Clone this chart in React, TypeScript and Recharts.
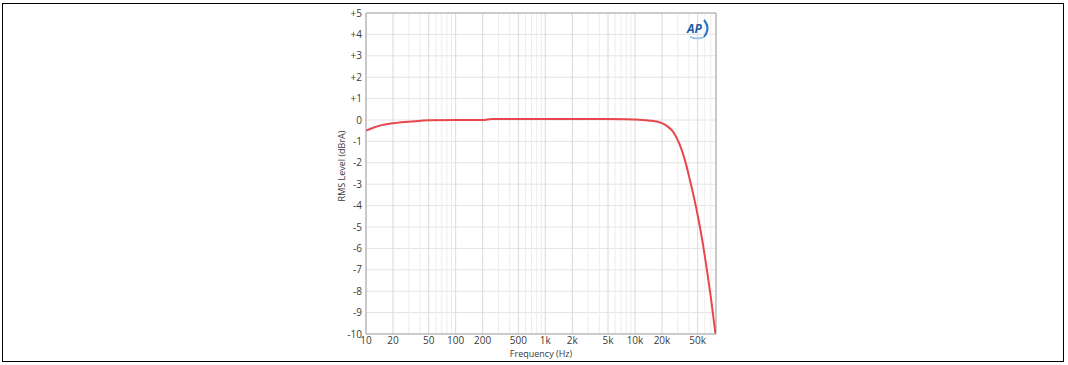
import {
  LineChart,
  Line,
  XAxis,
  YAxis,
  CartesianGrid,
  ReferenceLine,
} from "recharts";

// frequency response (Hz, dBrA)
const freqs = [
  10, 12, 15, 20, 30, 40, 50, 100, 200, 250, 500, 1000, 5000, 8000, 10000,
  15000, 20000, 23000, 26000, 29000, 33000, 37000, 41000, 46000, 51000,
  57000, 62000, 72000, 79000,
];
const levels = [
  -0.5, -0.36, -0.24, -0.15, -0.08, -0.04, -0.01, 0, 0, 0.05, 0.05, 0.05,
  0.05, 0.04, 0.02, -0.03, -0.15, -0.3, -0.5, -0.82, -1.37, -2.05, -2.82,
  -3.72, -4.64, -5.76, -6.75, -8.66, -10,
];

const xTicks = [10, 20, 50, 100, 200, 500, 1000, 2000, 5000, 10000, 20000, 50000];
const xMinor = [
  30, 40, 60, 70, 80, 90, 300, 400, 600, 700, 800, 900, 3000, 4000, 6000,
  7000, 8000, 9000, 30000, 40000, 60000, 70000,
];
const yTicks = [-10, -9, -8, -7, -6, -5, -4, -3, -2, -1, 0, 1, 2, 3, 4, 5];

const data = freqs.map((f, i) => ({ f, v: levels[i] }));

const font = "'Open Sans', 'Noto Sans', sans-serif";
const border = "#a6a6a6";

const fmtX = (v: number) => (v >= 1000 ? `${v / 1000}k` : `${v}`);
const fmtY = (v: number) => (v > 0 ? `+${v}` : `${v}`);

const App = () => {
  return (
    <div
      style={{
        position: "absolute",
        left: 0,
        top: 0,
        width: 1068,
        height: 365,
        background: "#fff",
        fontFamily: font,
      }}
    >
      <div
        style={{
          position: "absolute",
          left: 2,
          top: 3,
          width: 1060,
          height: 357,
          border: "1px solid #000",
        }}
      />
      <div style={{ position: "absolute", left: 300, top: 0 }}>
        <LineChart
          width={430}
          height={365}
          data={data}
          margin={{ top: 13, right: 14, left: 0, bottom: 0 }}
        >
          <CartesianGrid horizontal={true} vertical={false} stroke="#e4e4e4" />
          <CartesianGrid horizontal={false} vertical={true} stroke="#d9d9d9" />
          {xMinor.map((x) => (
            <ReferenceLine key={x} x={x} stroke="#ededed" />
          ))}
          <XAxis
            dataKey="f"
            type="number"
            scale="log"
            domain={[10, 80000]}
            ticks={xTicks}
            tickFormatter={fmtX}
            allowDataOverflow
            height={31}
            tickSize={0}
            tickMargin={3}
            tickLine={false}
            axisLine={{ stroke: border }}
            tick={{ fill: "#3a3a3a", fontSize: 10, fontFamily: font }}
            interval={0}
          />
          <YAxis
            type="number"
            domain={[-10, 5]}
            ticks={yTicks}
            tickFormatter={fmtY}
            allowDataOverflow
            width={66}
            tickSize={0}
            tickMargin={4}
            tickLine={false}
            axisLine={{ stroke: border }}
            tick={{ fill: "#3a3a3a", fontSize: 10, fontFamily: font }}
            interval={0}
          />
          <ReferenceLine y={5} stroke={border} />
          <ReferenceLine x={80000} stroke={border} />
          <Line
            type="monotone"
            dataKey="v"
            stroke="#e8474d"
            strokeWidth={2}
            dot={false}
            isAnimationActive={false}
          />
        </LineChart>
      </div>
      <div
        style={{
          position: "absolute",
          left: 541,
          top: 353,
          transform: "translate(-50%, -50%)",
          fontSize: 9,
          color: "#3a3a3a",
          whiteSpace: "nowrap",
        }}
      >
        Frequency (Hz)
      </div>
      <div
        style={{
          position: "absolute",
          left: 341,
          top: 166,
          transform: "translate(-50%, -50%) rotate(-90deg)",
          fontSize: 9,
          color: "#3a3a3a",
          whiteSpace: "nowrap",
        }}
      >
        RMS Level (dBrA)
      </div>
      <svg
        style={{ position: "absolute", left: 684, top: 18 }}
        width={28}
        height={22}
      >
        <text
          x={3}
          y={15}
          fill="#1f5ca6"
          fontSize={12}
          fontWeight="bold"
          fontStyle="italic"
          fontFamily={font}
        >
          AP
        </text>
        <path
          d="M20 2 Q27 10 20 19"
          stroke="#2a78c4"
          strokeWidth={2}
          fill="none"
        />
        <path d="M6 19 Q14 22 20 19" stroke="#8ec0ea" strokeWidth={1.5} fill="none" />
      </svg>
    </div>
  );
};

export default App;
